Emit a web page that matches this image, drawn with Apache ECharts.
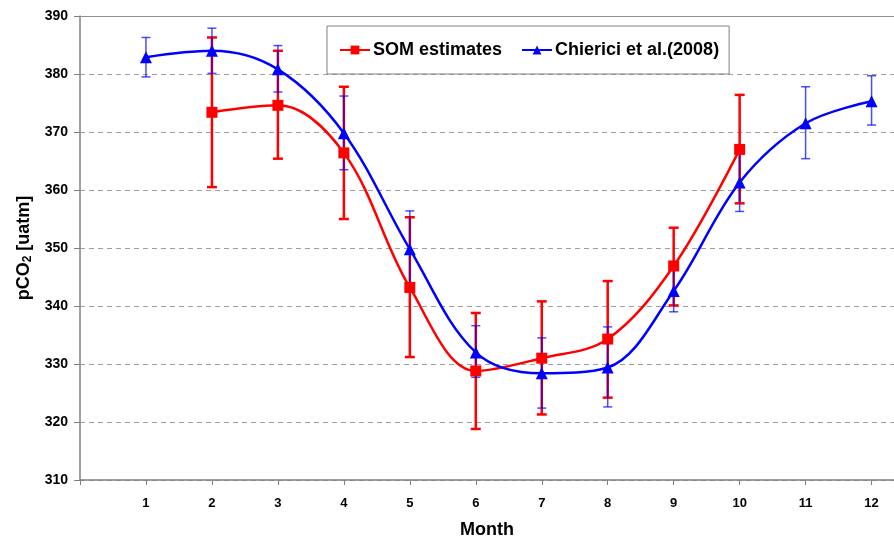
<!DOCTYPE html>
<html>
<head>
<meta charset="utf-8">
<script src="https://cdn.jsdelivr.net/npm/echarts@6/dist/echarts.min.js"></script>
<style>
  html, body { margin: 0; padding: 0; background: #fff; }
  #chart { width: 894px; height: 539px; }
</style>
</head>
<body>
<div id="chart"></div>
<script>
// months on the x axis
const months = [1, 2, 3, 4, 5, 6, 7, 8, 9, 10, 11, 12];
const xTicks = [1, 2, 3, 4, 5, 6, 7, 8, 9, 10, 11, 12];
const yTicks = [310, 320, 330, 340, 350, 360, 370, 380, 390];

// SOM estimates (no value for 1, 11, 12)
const somMean = [null, 373.4, 374.6, 366.4, 343.2, 328.8, 331.0, 334.3, 346.9, 367.0, null, null];
const somLow  = [null, 360.5, 365.4, 355.0, 331.2, 318.8, 321.3, 324.2, 340.1, 357.7, null, null];
const somHigh = [null, 386.3, 384.0, 377.8, 355.3, 338.8, 340.8, 344.3, 353.5, 376.4, null, null];

// Chierici et al. (2008)
const chiMean = [382.9, 384.0, 380.8, 369.8, 349.8, 332.0, 328.4, 329.4, 342.6, 361.3, 371.5, 375.3];
const chiLow  = [379.5, 380.1, 376.9, 363.5, 343.2, 327.7, 322.4, 322.6, 339.0, 356.3, 365.4, 371.2];
const chiHigh = [386.3, 387.9, 384.9, 376.2, 356.4, 336.6, 334.5, 336.4, 346.2, 366.3, 377.8, 379.7];

const pairs = (ys) => months.map((m, i) => [m, ys[i]]).filter((p) => p[1] != null);
const bars = (lo, hi) => months.map((m, i) => [m, lo[i], hi[i]]).filter((p) => p[1] != null);

const errorBar = (color, width, cap, opacity) => (params, api) => {
  const top = api.coord([api.value(0), api.value(2)]);
  const bot = api.coord([api.value(0), api.value(1)]);
  const style = { stroke: color, lineWidth: width, opacity: opacity };
  return {
    type: 'group',
    children: [
      { type: 'line', shape: { x1: top[0], y1: top[1], x2: bot[0], y2: bot[1] }, style },
      { type: 'line', shape: { x1: top[0] - cap, y1: top[1], x2: top[0] + cap, y2: top[1] }, style },
      { type: 'line', shape: { x1: bot[0] - cap, y1: bot[1], x2: bot[0] + cap, y2: bot[1] }, style },
    ],
  };
};

const font = '"Liberation Sans", Arial, sans-serif';
const chart = echarts.init(document.getElementById('chart'));

chart.setOption({
  animation: false,
  backgroundColor: '#fff',
  grid: { left: 80, right: 0, top: 16, bottom: 59, outerBoundsMode: 'none' },
  legend: {
    left: 327,
    top: 26,
    padding: [15, 10, 15, 12],
    itemGap: 19,
    itemWidth: 30,
    itemHeight: 11,
    borderColor: '#808080',
    borderWidth: 1,
    backgroundColor: '#fff',
    textStyle: { fontFamily: font, fontWeight: 'bold', fontSize: 18, color: '#000', padding: [0, 0, 0, -2] },
    data: ['SOM estimates', 'Chierici et al.(2008)'],
  },
  xAxis: [
    {
      type: 'value',
      min: 0,
      max: 12.34,
      interval: 1,
      name: 'Month',
      nameLocation: 'middle',
      nameGap: 41,
      nameTextStyle: { fontFamily: font, fontWeight: 'bold', fontSize: 18, color: '#000' },
      axisLine: { lineStyle: { color: '#808080', width: 1.5 } },
      axisTick: { length: 5, lineStyle: { color: '#808080' } },
      axisLabel: {
        margin: 17,
        fontFamily: font,
        fontWeight: 'bold',
        fontSize: 13,
        color: '#000',
        formatter: (v) => (xTicks.includes(v) ? String(v) : ''),
      },
      splitLine: { show: false },
    },
    {
      type: 'value',
      position: 'top',
      min: 0,
      max: 12.34,
      axisLine: { show: true, lineStyle: { color: '#909090', width: 1 } },
      axisTick: { show: false },
      axisLabel: { show: false },
      splitLine: { show: false },
    },
  ],
  yAxis: {
    type: 'value',
    min: yTicks[0],
    max: yTicks[yTicks.length - 1],
    interval: 10,
    name: '{b|pCO}{s|2}{b| [uatm]}',
    nameLocation: 'middle',
    nameGap: 46,
    nameRotate: 90,
    nameTextStyle: {
      rich: {
        b: { fontFamily: font, fontWeight: 'bold', fontSize: 18, color: '#000' },
        s: { fontFamily: font, fontWeight: 'bold', fontSize: 12, color: '#000', verticalAlign: 'bottom', padding: [8, 0, 0, 0] },
      },
    },
    axisLine: { show: true, lineStyle: { color: '#808080', width: 1.5 } },
    axisTick: { show: true, length: 6, lineStyle: { color: '#808080' } },
    axisLabel: { margin: 12, fontFamily: font, fontWeight: 'bold', fontSize: 14, color: '#000' },
    splitLine: { lineStyle: { color: '#a0a0a0', type: [5, 4], width: 1 } },
  },
  series: [
    {
      type: 'custom',
      name: 'somErr',
      renderItem: errorBar('#ff0000', 2.5, 5, 1),
      encode: { x: 0, y: [1, 2] },
      data: bars(somLow, somHigh),
      z: 2,
    },
    {
      type: 'custom',
      name: 'chiErr',
      renderItem: errorBar('#0000ff', 1.5, 4.5, 0.7),
      encode: { x: 0, y: [1, 2] },
      data: bars(chiLow, chiHigh),
      z: 3,
    },
    {
      name: 'SOM estimates',
      type: 'line',
      smooth: 0.35,
      symbol: 'rect',
      symbolSize: 11,
      color: '#ff0000',
      lineStyle: { width: 2.5, color: '#ff0000' },
      itemStyle: { color: '#ff0000' },
      data: pairs(somMean),
      z: 4,
    },
    {
      name: 'Chierici et al.(2008)',
      type: 'line',
      smooth: 0.35,
      symbol: 'triangle',
      symbolSize: 12,
      color: '#0000ff',
      lineStyle: { width: 2.5, color: '#0000ff' },
      itemStyle: { color: '#0000ff' },
      data: pairs(chiMean),
      z: 5,
    },
  ],
});
</script>
</body>
</html>
